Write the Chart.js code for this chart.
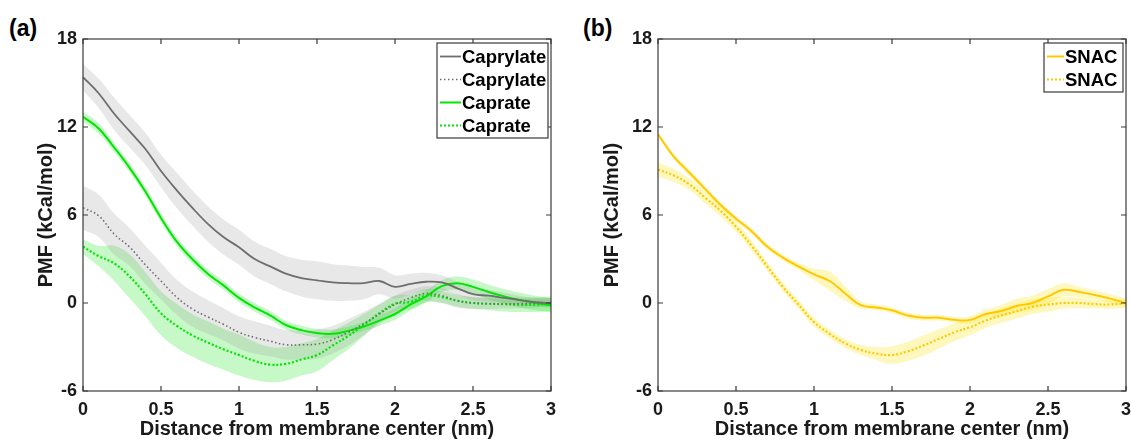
<!DOCTYPE html>
<html>
<head>
<meta charset="utf-8">
<script src="https://cdn.jsdelivr.net/npm/chart.js@4"></script>
<style>
  body { margin: 0; background: #fff; }
  .panel { position: absolute; top: 0; }
  .tag { position: absolute; top: 15px; font: bold 23px "Liberation Sans", Arial, sans-serif; color: #000; }
</style>
</head>
<body>
<div class="tag" style="left:9px">(a)</div>
<div class="tag" style="left:583px">(b)</div>
<div class="panel" style="left:0"><canvas id="chartA" width="566" height="441"></canvas></div>
<div class="panel" style="left:566px"><canvas id="chartB" width="566" height="441"></canvas></div>
<script>
// distance from membrane center (nm)
var distance = [0, 0.1, 0.2, 0.3, 0.4, 0.5, 0.6, 0.7, 0.8, 0.9, 1.0, 1.1, 1.2, 1.3, 1.4, 1.5,
                1.6, 1.7, 1.8, 1.9, 2.0, 2.1, 2.2, 2.3, 2.4, 2.5, 2.6, 2.7, 2.8, 2.9, 3.0];

// panel (a)
var caprylateSolid = [15.4, 14.3, 12.9, 11.7, 10.5, 9.0, 7.7, 6.5, 5.4, 4.5, 3.8, 3.0, 2.5, 2.0, 1.7, 1.55,
                      1.4, 1.35, 1.35, 1.5, 1.1, 1.3, 1.45, 1.4, 1.0, 0.6, 0.5, 0.35, 0.2, 0.05, 0.0];
var caprylateSolidErr = [0.9, 1.0, 1.1, 1.1, 1.1, 1.1, 1.2, 1.2, 1.2, 1.2, 1.2, 1.2, 1.2, 1.2, 1.25, 1.3,
                         1.25, 1.2, 1.1, 0.9, 0.8, 0.7, 0.6, 0.5, 0.45, 0.4, 0.4, 0.35, 0.3, 0.3, 0.3];
var caprylateDotted = [6.5, 5.95, 4.7, 3.8, 2.6, 1.5, 0.4, -0.4, -0.95, -1.45, -2.0, -2.35, -2.6, -2.85, -2.85, -2.8,
                       -2.5, -2.0, -1.4, -0.75, -0.1, 0.35, 0.65, 0.5, 0.15, 0.0, -0.05, -0.07, -0.05, 0.0, 0.0];
var caprylateDottedErr = [1.5, 1.45, 1.4, 1.3, 1.3, 1.25, 1.2, 1.2, 1.15, 1.1, 1.1, 1.1, 1.05, 1.0, 1.0, 1.0,
                          0.95, 0.9, 0.8, 0.7, 0.6, 0.55, 0.5, 0.5, 0.45, 0.4, 0.35, 0.3, 0.3, 0.3, 0.3];
var caprateSolid = [12.7, 11.9, 10.6, 9.2, 7.6, 5.8, 4.2, 3.0, 2.0, 1.2, 0.35, -0.3, -0.85, -1.5, -1.85, -2.05,
                    -2.1, -1.9, -1.6, -1.2, -0.75, -0.1, 0.45, 1.15, 1.35, 1.1, 0.75, 0.45, 0.2, 0.0, -0.15];
var caprateSolidErr = [0.35, 0.35, 0.3, 0.3, 0.3, 0.3, 0.3, 0.3, 0.3, 0.3, 0.3, 0.3, 0.3, 0.3, 0.3, 0.3,
                       0.3, 0.3, 0.3, 0.35, 0.4, 0.4, 0.4, 0.4, 0.45, 0.5, 0.5, 0.5, 0.5, 0.5, 0.5];
var caprateDotted = [3.84, 3.2, 2.7, 1.8, 0.6, -0.7, -1.55, -2.2, -2.7, -3.15, -3.55, -3.95, -4.2, -4.15, -3.85, -3.55,
                     -2.9, -2.25, -1.5, -0.7, -0.05, 0.08, 0.5, 0.4, 0.15, 0.0, -0.05, -0.08, -0.12, -0.12, -0.05];
var caprateDottedErr = [0.5, 0.7, 1.2, 1.5, 1.5, 1.5, 1.5, 1.45, 1.45, 1.4, 1.4, 1.3, 1.2, 1.15, 1.1, 1.1,
                        1.0, 0.9, 0.75, 0.6, 0.55, 0.5, 0.45, 0.4, 0.4, 0.4, 0.45, 0.5, 0.5, 0.5, 0.5];

// panel (b)
var snacSolid = [11.5, 10.0, 8.9, 7.8, 6.7, 5.75, 4.9, 3.85, 3.1, 2.5, 1.95, 1.5, 0.65, -0.15, -0.3, -0.5,
                 -0.85, -1.0, -1.0, -1.15, -1.15, -0.75, -0.55, -0.2, 0.0, 0.45, 0.9, 0.75, 0.55, 0.3, 0.0];
var snacSolidErr = [0.15, 0.2, 0.2, 0.2, 0.2, 0.2, 0.2, 0.2, 0.2, 0.25, 0.4, 0.65, 0.5, 0.25, 0.2, 0.2,
                    0.2, 0.2, 0.2, 0.2, 0.25, 0.3, 0.4, 0.5, 0.5, 0.5, 0.45, 0.35, 0.3, 0.3, 0.3];
var snacDotted = [9.1, 8.7, 8.1, 7.2, 6.3, 5.2, 3.9, 2.5, 1.1, -0.1, -1.3, -2.1, -2.75, -3.2, -3.45, -3.55,
                  -3.3, -2.9, -2.45, -2.0, -1.65, -1.2, -0.85, -0.55, -0.25, -0.1, 0.0, 0.0, -0.08, -0.1, 0.0];
var snacDottedErr = [0.5, 0.45, 0.4, 0.4, 0.4, 0.35, 0.35, 0.3, 0.3, 0.3, 0.3, 0.3, 0.3, 0.35, 0.45, 0.6,
                     0.65, 0.7, 0.65, 0.6, 0.55, 0.5, 0.5, 0.5, 0.5, 0.5, 0.4, 0.35, 0.3, 0.3, 0.3];

var xTicks = [0, 0.5, 1, 1.5, 2, 2.5, 3];
var yTicks = [-6, 0, 6, 12, 18];

var FONT = '"Liberation Sans", Arial, Helvetica, sans-serif';

function pts(ys) {
    return distance.map(function (d, i) { return { x: d, y: ys[i] }; });
}
function band(ys, err, sign) {
    return distance.map(function (d, i) { return { x: d, y: ys[i] + sign * err[i] }; });
}

function bandSets(ys, err, fillColor) {
    return [
        { data: band(ys, err, 1), fill: "+1", backgroundColor: fillColor, borderWidth: 0, pointRadius: 0, tension: 0.4, order: 5 },
        { data: band(ys, err, -1), fill: false, borderWidth: 0, pointRadius: 0, tension: 0.4, order: 5 },
    ];
}
function lineSet(label, ys, color, width, dash) {
    return { label: label, legend: true, data: pts(ys), borderColor: color, borderWidth: width, borderDash: dash,
             pointRadius: 0, fill: false, tension: 0.4, order: 1 };
}

// frame with inward ticks on all four sides
var framePlugin = {
    id: "frame",
    afterDraw: function (chart) {
        var c = chart.ctx, a = chart.chartArea, sx = chart.scales.x, sy = chart.scales.y;
        c.save();
        c.strokeStyle = "#3a3a3a";
        c.lineWidth = 1.2;
        c.strokeRect(a.left, a.top, a.right - a.left, a.bottom - a.top);
        c.beginPath();
        xTicks.forEach(function (t) {
            var px = sx.getPixelForValue(t);
            c.moveTo(px, a.bottom); c.lineTo(px, a.bottom - 5);
            c.moveTo(px, a.top); c.lineTo(px, a.top + 5);
        });
        yTicks.forEach(function (t) {
            var py = sy.getPixelForValue(t);
            c.moveTo(a.left, py); c.lineTo(a.left + 5, py);
            c.moveTo(a.right, py); c.lineTo(a.right - 5, py);
        });
        c.stroke();
        c.restore();
    }
};

// boxed legend in the upper right corner
var legendPlugin = {
    id: "boxLegend",
    afterDraw: function (chart, args, opts) {
        var c = chart.ctx;
        var items = chart.data.datasets.filter(function (d) { return d.legend; });
        c.save();
        c.fillStyle = "#fff";
        c.fillRect(opts.x, opts.y, opts.w, opts.h);
        c.strokeStyle = "#3a3a3a";
        c.lineWidth = 1.2;
        c.strokeRect(opts.x, opts.y, opts.w, opts.h);
        c.font = "bold 18.5px " + FONT;
        c.textBaseline = "middle";
        items.forEach(function (d, i) {
            var yy = opts.y + 13.5 + i * opts.row;
            c.beginPath();
            c.strokeStyle = d.borderColor;
            c.lineWidth = d.borderWidth;
            c.setLineDash(d.borderDash || []);
            c.moveTo(opts.x + 3, yy); c.lineTo(opts.x + 3 + opts.sample, yy);
            c.stroke();
            c.setLineDash([]);
            c.fillStyle = "#000";
            c.fillText(d.label, opts.x + opts.sample + 4, yy + 1);
        });
        c.restore();
    }
};

function makeOptions(yWidth, legendBox) {
    return {
        responsive: false,
        animation: false,
        layout: { padding: { left: 34, right: legendBox.padRight, top: 39, bottom: 0 } },
        plugins: {
            legend: { display: false },
            tooltip: { enabled: false },
            boxLegend: legendBox,
        },
        scales: {
            x: {
                type: "linear", min: 0, max: 3,
                afterFit: function (s) { s.height = 50; s.paddingLeft = 0; s.paddingRight = 0; },
                afterBuildTicks: function (s) { s.ticks = xTicks.map(function (v) { return { value: v }; }); },
                grid: { display: false, drawTicks: false },
                border: { display: false },
                ticks: { color: "#1a1a1a", padding: 8, font: { family: FONT, size: 18, weight: "bold" },
                         callback: function (v) { return String(v); } },
                title: { display: true, text: "Distance from membrane center (nm)", color: "#1a1a1a",
                         padding: { top: 0, bottom: 0 }, font: { family: FONT, size: 20, weight: "bold" } },
            },
            y: {
                min: -6, max: 18,
                afterFit: function (s) { s.width = yWidth; s.paddingTop = 0; s.paddingBottom = 0; },
                afterBuildTicks: function (s) { s.ticks = yTicks.map(function (v) { return { value: v }; }); },
                grid: { display: false, drawTicks: false },
                border: { display: false },
                ticks: { color: "#1a1a1a", padding: 6, font: { family: FONT, size: 18, weight: "bold" } },
                title: { display: true, text: "PMF (kCal/mol)", color: "#1a1a1a",
                         padding: { top: 0, bottom: 0 }, font: { family: FONT, size: 20, weight: "bold" } },
            },
        },
    };
}

var GRAY = "#6e6e6e", GREEN = "#00e600", GOLD = "#ffc800";

new Chart(document.getElementById("chartA").getContext("2d"), {
    type: "line",
    data: {
        datasets: [].concat(
            lineSet("Caprylate", caprylateSolid, GRAY, 1.8, []),
            lineSet("Caprylate", caprylateDotted, GRAY, 1.6, [1.5, 2.5]),
            lineSet("Caprate", caprateSolid, GREEN, 2, []),
            lineSet("Caprate", caprateDotted, GREEN, 2.2, [2, 2]),
            bandSets(caprylateSolid, caprylateSolidErr, "rgba(150,150,150,0.22)"),
            bandSets(caprylateDotted, caprylateDottedErr, "rgba(150,150,150,0.22)"),
            bandSets(caprateSolid, caprateSolidErr, "rgba(0,225,0,0.22)"),
            bandSets(caprateDotted, caprateDottedErr, "rgba(0,225,0,0.22)")
        ),
    },
    options: makeOptions(49, { x: 437, y: 43, w: 111, h: 95, row: 23, sample: 21, padRight: 15 }),
    plugins: [framePlugin, legendPlugin],
});

new Chart(document.getElementById("chartB").getContext("2d"), {
    type: "line",
    data: {
        datasets: [].concat(
            lineSet("SNAC", snacSolid, GOLD, 2, []),
            lineSet("SNAC", snacDotted, GOLD, 2.2, [2, 2]),
            bandSets(snacSolid, snacSolidErr, "rgba(255,232,40,0.3)"),
            bandSets(snacDotted, snacDottedErr, "rgba(255,232,40,0.3)")
        ),
    },
    options: makeOptions(58, { x: 478, y: 43, w: 79, h: 49, row: 23, sample: 17, padRight: 6 }),
    plugins: [framePlugin, legendPlugin],
});
</script>
</body>
</html>
